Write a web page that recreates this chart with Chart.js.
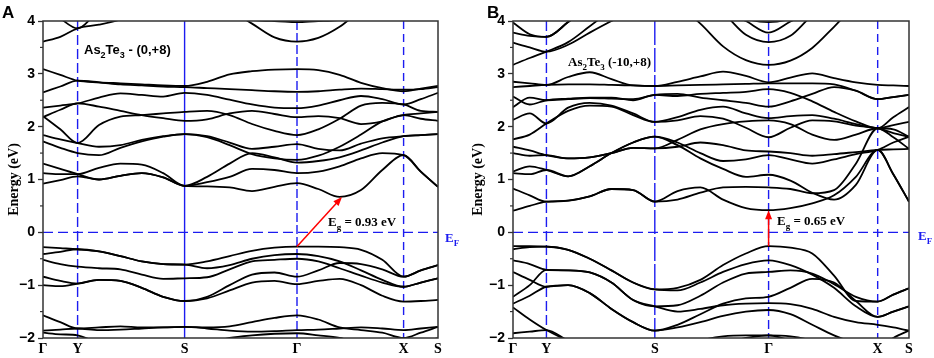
<!DOCTYPE html>
<html>
<head>
<meta charset="utf-8">
<script src="https://cdn.jsdelivr.net/npm/chart.js@4.4.1/dist/chart.umd.min.js"></script>
<style>
body { margin: 0; background: #fff; }
#wrap { position: relative; width: 934px; height: 358px; }
.pane { position: absolute; top: 0; width: 467px; height: 358px; }
</style>
</head>
<body>
<div id="wrap">
  <div class="pane" style="left:0"><canvas id="chartA" width="467" height="358"></canvas></div>
  <div class="pane" style="left:467px"><canvas id="chartB" width="467" height="358"></canvas></div>
</div>
<script>
// k-path labels and positions of the high symmetry points
var symLabels = ["\u0393", "Y", "S", "\u0393", "X", "S"];
var symA = [0, 34.6, 141.6, 254.0, 360.6, 395.0];
var symB = [0, 33.4, 141.7, 255.4, 364.4, 395.7];

// k grid (same columns used for every band of a panel)
var kA = [0, 17.3, 34.6, 56.0, 77.4, 98.8, 120.2, 141.6, 164.1, 186.6, 209.0, 231.5, 254.0, 275.3, 296.6, 318.0, 339.3, 360.6, 377.8, 395.0];
var kB = [0, 16.7, 33.4, 55.1, 76.7, 98.4, 120.0, 141.7, 164.4, 187.2, 209.9, 232.7, 255.4, 277.2, 299.0, 320.8, 342.6, 364.4, 380.0, 395.7];

// band energies (eV), panel A : As2Te3 - (0,+8)
var bandsA = [
  [4.30, 4.05, 3.86, 4.20, 4.40, 4.50, 4.50, 4.50, 4.50, 4.40, 4.02, 4.00, 3.98, 4.00, 4.02, 4.20, 4.40, 4.50, 4.50, 4.50],
  [3.61, 3.70, 3.86, 3.93, 4.03, 4.20, 4.35, 4.40, 4.30, 4.20, 3.95, 3.69, 3.61, 3.68, 3.89, 4.20, 4.40, 4.50, 4.50, 4.50],
  [3.09, 2.98, 2.87, 2.84, 2.82, 2.80, 2.78, 2.77, 2.85, 2.99, 3.05, 3.08, 3.09, 3.07, 2.98, 2.83, 2.73, 2.67, 2.72, 2.77],
  [2.65, 2.76, 2.87, 2.84, 2.80, 2.78, 2.76, 2.75, 2.73, 2.71, 2.69, 2.67, 2.66, 2.67, 2.70, 2.72, 2.71, 2.70, 2.71, 2.75],
  [2.36, 2.40, 2.44, 2.55, 2.63, 2.60, 2.57, 2.64, 2.60, 2.51, 2.42, 2.36, 2.35, 2.40, 2.50, 2.58, 2.52, 2.42, 2.52, 2.64],
  [2.18, 2.32, 2.44, 2.38, 2.30, 2.22, 2.16, 2.11, 2.14, 2.25, 2.30, 2.24, 2.18, 2.20, 2.16, 2.05, 2.10, 2.22, 2.15, 2.11],
  [2.20, 1.95, 1.69, 2.03, 2.19, 2.22, 2.25, 2.28, 2.30, 2.22, 2.05, 1.92, 1.84, 1.95, 2.15, 2.40, 2.45, 2.42, 2.30, 2.28],
  [1.84, 1.76, 1.69, 1.62, 1.65, 1.75, 1.82, 1.86, 1.80, 1.65, 1.48, 1.40, 1.37, 1.45, 1.62, 1.85, 2.10, 2.22, 2.25, 2.28],
  [1.72, 1.60, 1.50, 1.46, 1.60, 1.72, 1.81, 1.86, 1.82, 1.70, 1.58, 1.62, 1.67, 1.58, 1.55, 1.68, 1.78, 1.82, 1.84, 1.86],
  [1.30, 1.20, 1.10, 1.00, 1.07, 1.12, 1.04, 0.88, 1.05, 1.30, 1.50, 1.42, 1.32, 1.35, 1.42, 1.55, 1.70, 1.82, 1.84, 1.86],
  [1.12, 1.10, 1.10, 1.22, 1.30, 1.28, 1.12, 0.88, 0.95, 1.05, 1.20, 1.18, 1.12, 1.15, 1.25, 1.40, 1.50, 1.46, 1.15, 0.86],
  [0.92, 0.99, 1.06, 1.00, 1.07, 1.12, 1.04, 0.88, 0.87, 0.85, 0.78, 0.86, 0.93, 0.82, 0.67, 0.80, 1.18, 1.46, 1.15, 0.86],
  [-0.28, -0.30, -0.32, -0.36, -0.45, -0.55, -0.60, -0.61, -0.55, -0.45, -0.35, -0.29, -0.27, -0.27, -0.28, -0.33, -0.52, -0.84, -0.72, -0.62],
  [-0.41, -0.37, -0.32, -0.36, -0.45, -0.55, -0.60, -0.61, -0.68, -0.62, -0.50, -0.43, -0.41, -0.45, -0.55, -0.72, -0.90, -1.03, -0.95, -0.87],
  [-0.52, -0.60, -0.65, -0.68, -0.70, -0.80, -0.88, -0.87, -0.85, -0.70, -0.55, -0.52, -0.50, -0.55, -0.68, -0.82, -0.95, -1.03, -0.95, -0.87],
  [-0.84, -0.92, -0.97, -0.90, -0.92, -1.05, -1.22, -1.30, -1.22, -1.00, -0.80, -0.76, -0.84, -0.72, -0.58, -0.60, -0.70, -0.84, -0.72, -0.62],
  [-1.00, -1.02, -0.97, -0.90, -0.92, -1.05, -1.22, -1.30, -1.25, -1.10, -0.95, -0.92, -0.98, -0.92, -0.88, -1.00, -1.20, -1.31, -1.30, -1.28],
  [-1.57, -1.70, -1.82, -1.80, -1.78, -1.80, -1.80, -1.79, -1.80, -1.78, -1.70, -1.62, -1.57, -1.65, -1.80, -1.85, -1.90, -2.00, -1.90, -1.79],
  [-1.86, -1.84, -1.82, -1.85, -1.84, -1.82, -1.80, -1.79, -1.82, -1.86, -1.88, -1.87, -1.85, -1.84, -1.82, -1.80, -1.82, -1.85, -1.82, -1.79],
  [-1.90, -1.93, -1.95, -2.10, -2.20, -2.20, -2.20, -2.20, -2.10, -2.00, -1.95, -1.92, -1.91, -1.95, -2.00, -2.10, -2.15, -2.20, -2.10, -2.00]
];

// band energies (eV), panel B : As2Te3 (-10,+8)
var bandsB = [
  [3.97, 3.75, 3.70, 3.98, 4.30, 4.50, 4.60, 4.60, 4.60, 4.50, 4.30, 4.05, 3.98, 4.05, 4.30, 4.50, 4.60, 4.60, 4.60, 4.60],
  [3.78, 3.72, 3.70, 3.98, 4.30, 4.50, 4.60, 4.60, 4.50, 4.40, 4.20, 4.00, 3.78, 3.99, 4.20, 4.40, 4.50, 4.60, 4.60, 4.60],
  [3.59, 3.50, 3.42, 3.55, 3.78, 4.00, 4.20, 4.40, 4.40, 4.30, 4.14, 3.74, 3.60, 3.72, 4.10, 4.30, 4.40, 4.50, 4.50, 4.50],
  [3.17, 3.30, 3.42, 3.60, 3.90, 4.20, 4.40, 4.50, 4.30, 3.95, 3.52, 3.26, 3.17, 3.25, 3.49, 3.89, 4.30, 4.50, 4.50, 4.50],
  [2.85, 2.82, 2.79, 2.94, 3.03, 2.90, 2.78, 2.77, 2.85, 2.95, 3.04, 2.96, 2.84, 2.93, 3.01, 2.92, 2.84, 2.79, 2.78, 2.77],
  [2.75, 2.77, 2.79, 2.80, 2.80, 2.79, 2.78, 2.77, 2.78, 2.79, 2.80, 2.81, 2.82, 2.82, 2.82, 2.80, 2.68, 2.52, 2.56, 2.60],
  [2.57, 2.42, 2.50, 2.53, 2.55, 2.55, 2.50, 2.60, 2.58, 2.62, 2.64, 2.66, 2.71, 2.64, 2.48, 2.28, 2.10, 1.97, 2.03, 2.09],
  [2.37, 2.55, 2.50, 2.52, 2.54, 2.53, 2.52, 2.60, 2.62, 2.55, 2.50, 2.45, 2.38, 2.48, 2.62, 2.75, 2.68, 2.52, 2.56, 2.60],
  [2.13, 2.25, 2.06, 2.36, 2.45, 2.40, 2.25, 2.09, 2.18, 2.32, 2.38, 2.25, 2.16, 2.20, 2.22, 2.15, 2.05, 1.97, 2.18, 2.37],
  [1.76, 1.85, 2.06, 2.30, 2.40, 2.38, 2.22, 2.09, 2.12, 2.20, 2.15, 1.98, 1.80, 1.98, 2.12, 2.10, 2.02, 1.97, 1.88, 1.81],
  [1.62, 1.55, 1.46, 1.40, 1.42, 1.50, 1.60, 1.59, 1.75, 1.95, 2.05, 2.10, 2.12, 2.05, 1.85, 1.75, 1.85, 1.97, 1.80, 1.58],
  [1.50, 1.45, 1.46, 1.40, 1.42, 1.50, 1.60, 1.59, 1.62, 1.70, 1.65, 1.55, 1.53, 1.50, 1.45, 1.48, 1.52, 1.56, 1.57, 1.58],
  [1.15, 1.25, 1.18, 1.06, 1.25, 1.50, 1.70, 1.81, 1.70, 1.50, 1.35, 1.38, 1.46, 1.38, 1.30, 1.38, 1.48, 1.56, 1.70, 1.81],
  [1.12, 1.10, 1.18, 1.06, 1.25, 1.50, 1.70, 1.81, 1.65, 1.40, 1.20, 1.05, 1.09, 0.98, 0.75, 0.62, 0.90, 1.56, 1.10, 0.58],
  [0.83, 0.70, 0.58, 0.60, 0.68, 0.82, 0.80, 0.58, 0.62, 0.75, 0.85, 0.86, 0.85, 0.82, 0.74, 0.80, 1.30, 1.97, 1.95, 1.81],
  [0.41, 0.50, 0.58, 0.60, 0.68, 0.82, 0.80, 0.58, 0.78, 0.85, 0.62, 0.46, 0.42, 0.46, 0.55, 0.70, 1.05, 1.56, 1.10, 0.58],
  [-0.26, -0.26, -0.27, -0.33, -0.50, -0.72, -0.95, -1.08, -1.05, -0.90, -0.62, -0.40, -0.26, -0.29, -0.40, -0.82, -1.30, -1.31, -1.18, -1.06],
  [-0.32, -0.28, -0.27, -0.33, -0.50, -0.72, -0.95, -1.08, -1.10, -0.95, -0.75, -0.60, -0.53, -0.62, -0.80, -1.05, -1.40, -1.60, -1.50, -1.40],
  [-0.53, -0.60, -0.71, -0.72, -0.76, -0.95, -1.28, -1.40, -1.38, -1.20, -0.95, -0.78, -0.75, -0.72, -0.78, -0.98, -1.22, -1.31, -1.18, -1.06],
  [-0.75, -0.90, -1.03, -1.00, -1.15, -1.45, -1.70, -1.86, -1.75, -1.55, -1.35, -1.25, -1.22, -1.05, -0.88, -0.95, -1.30, -1.60, -1.50, -1.40],
  [-1.22, -1.00, -0.71, -0.72, -0.76, -0.95, -1.28, -1.40, -1.50, -1.45, -1.38, -1.35, -1.34, -1.36, -1.45, -1.60, -1.70, -1.75, -1.80, -1.86],
  [-1.35, -1.20, -1.03, -1.00, -1.15, -1.45, -1.70, -1.86, -1.80, -1.70, -1.58, -1.50, -1.47, -1.55, -1.75, -1.95, -2.10, -2.20, -2.00, -1.86],
  [-1.42, -1.65, -1.85, -2.05, -2.20, -2.30, -2.30, -2.30, -2.30, -2.20, -2.10, -2.00, -1.95, -2.05, -2.20, -2.30, -2.30, -2.30, -2.30, -2.30],
  [-1.91, -1.88, -1.85, -2.05, -2.20, -2.30, -2.30, -2.30, -2.20, -2.05, -1.97, -1.95, -1.95, -1.97, -2.05, -2.20, -2.30, -2.30, -2.30, -2.30]
];

// band gap arrows [k, E] -> [k, E]
var gapFromA = [254.0, -0.27], gapToA = [299.0, 0.67];
var gapFromB = [255.4, -0.26], gapToB = [255.4, 0.42];

var BLUE = "#1c1cf0";
var SERIF = "'Liberation Serif', 'Times New Roman', serif";
var SANS = "'Liberation Sans', Arial, sans-serif";

function makeSets(k, bands) {
	var sets = [];
	for (var b = 0; b < bands.length; b++) {
		var pts = [];
		for (var i = 0; i < k.length; i++) pts.push({ x: k[i], y: bands[b][i] });
		sets.push({
			data: pts,
			borderColor: "#000",
			borderWidth: 1.8,
			pointRadius: 0,
			fill: false,
			tension: 0.4,
			cubicInterpolationMode: "monotone"
		});
	}
	return sets;
}

// draw text made of pieces, some of them subscripts
function richText(ctx, x, y, parts, size, family, color) {
	ctx.save();
	ctx.fillStyle = color;
	ctx.textBaseline = "alphabetic";
	ctx.textAlign = "left";
	for (var i = 0; i < parts.length; i++) {
		var p = parts[i];
		var sz = p.sub ? Math.round(size * 0.68) : size;
		ctx.font = "bold " + sz + "px " + family;
		ctx.fillText(p.t, x, p.sub ? y + size * 0.28 : y);
		x += ctx.measureText(p.t).width;
	}
	ctx.restore();
}

var decor = {
	id: "decor",
	beforeDatasetsDraw: function(chart, args, o) {
		var ctx = chart.ctx, a = chart.chartArea;
		var xs = chart.scales.x, ys = chart.scales.y;
		ctx.save();
		ctx.strokeStyle = BLUE;
		ctx.lineWidth = 1.4;
		for (var i = 1; i < o.sym.length - 1; i++) {
			var px = xs.getPixelForValue(o.sym[i]);
			ctx.setLineDash(o.dashes[i - 1]);
			ctx.beginPath();
			ctx.moveTo(px, a.top);
			ctx.lineTo(px, a.bottom);
			ctx.stroke();
		}
		var y0 = ys.getPixelForValue(0);
		ctx.setLineDash([10, 5]);
		ctx.beginPath();
		ctx.moveTo(a.left, y0);
		ctx.lineTo(a.right, y0);
		ctx.stroke();
		ctx.restore();
	},
	afterDraw: function(chart, args, o) {
		var ctx = chart.ctx, a = chart.chartArea;
		var xs = chart.scales.x, ys = chart.scales.y;
		ctx.save();
		// frame
		ctx.strokeStyle = "#333";
		ctx.lineWidth = 1.5;
		ctx.strokeRect(a.left, a.top, a.right - a.left, a.bottom - a.top);
		// minor ticks
		ctx.lineWidth = 1.2;
		for (var v = -1.5; v < 4; v += 1) {
			var py = ys.getPixelForValue(v);
			ctx.beginPath();
			ctx.moveTo(a.left - 3, py);
			ctx.lineTo(a.left, py);
			ctx.stroke();
		}
		// gap arrow
		var x0 = xs.getPixelForValue(o.gapFrom[0]), y0 = ys.getPixelForValue(o.gapFrom[1]);
		var x1 = xs.getPixelForValue(o.gapTo[0]), y1 = ys.getPixelForValue(o.gapTo[1]);
		var ang = Math.atan2(y1 - y0, x1 - x0);
		ctx.strokeStyle = "#f00";
		ctx.fillStyle = "#f00";
		ctx.lineWidth = 1.5;
		ctx.beginPath();
		ctx.moveTo(x0, y0);
		ctx.lineTo(x1 - 6 * Math.cos(ang), y1 - 6 * Math.sin(ang));
		ctx.stroke();
		ctx.beginPath();
		ctx.moveTo(x1, y1);
		ctx.lineTo(x1 - 9 * Math.cos(ang) + 3.5 * Math.sin(ang), y1 - 9 * Math.sin(ang) - 3.5 * Math.cos(ang));
		ctx.lineTo(x1 - 9 * Math.cos(ang) - 3.5 * Math.sin(ang), y1 - 9 * Math.sin(ang) + 3.5 * Math.cos(ang));
		ctx.closePath();
		ctx.fill();
		ctx.restore();
		// texts
		ctx.save();
		ctx.fillStyle = "#000";
		ctx.font = "bold 17px " + SANS;
		ctx.fillText(o.letter, o.letterPos[0], o.letterPos[1]);
		ctx.restore();
		richText(ctx, o.namePos[0], o.namePos[1], o.name, 13, o.nameFont, "#000");
		richText(ctx, o.gapPos[0], o.gapPos[1], [{ t: "E" }, { t: "g", sub: true }, { t: " = " + o.gapText }], 13, SERIF, "#000");
		richText(ctx, o.efPos[0], o.efPos[1], [{ t: "E" }, { t: "F", sub: true }], 13, SERIF, BLUE);
	}
};

function makeChart(id, k, sym, bands, axisWidth, padRight, titlePad, opts) {
	return new Chart(document.getElementById(id), {
		type: "line",
		data: { datasets: makeSets(k, bands) },
		plugins: [decor],
		options: {
			responsive: false,
			animation: false,
			layout: { padding: { left: 0, top: 21, right: padRight, bottom: 0 } },
			plugins: { legend: { display: false }, tooltip: { enabled: false }, decor: opts },
			scales: {
				x: {
					type: "linear",
					min: 0,
					max: sym[sym.length - 1],
					afterFit: function(s) { s.height = 20; },
					afterBuildTicks: function(s) { s.ticks = sym.map(function(v) { return { value: v }; }); },
					ticks: {
						autoSkip: false,
						maxRotation: 0,
						padding: 3,
						color: "#000",
						font: { family: SERIF, weight: "bold", size: 14 },
						callback: function(v, i) { return symLabels[i]; }
					},
					grid: { display: false, drawTicks: false },
					border: { display: false }
				},
				y: {
					min: -2,
					max: 4,
					afterFit: function(s) { s.width = axisWidth; },
					ticks: {
						stepSize: 1,
						padding: 3,
						color: "#000",
						font: { family: SANS, weight: "bold", size: 14 },
						callback: function(v) { return v < 0 ? "\u2212" + Math.abs(v) : String(v); }
					},
					grid: { drawOnChartArea: false, drawTicks: true, tickLength: 5, tickColor: "#333", tickWidth: 1.3 },
					border: { display: false },
					title: {
						display: true,
						text: "Energy (eV)",
						color: "#000",
						font: { family: SERIF, weight: "bold", size: 14 },
						padding: { top: titlePad, bottom: 0 }
					}
				}
			}
		}
	});
}

makeChart("chartA", kA, symA, bandsA, 43, 29, 6, {
	sym: symA,
	dashes: [[10, 4], [], [9, 3], [8, 5]],
	gapFrom: gapFromA, gapTo: gapToA,
	letter: "A", letterPos: [2, 18],
	name: [{ t: "As" }, { t: "2", sub: true }, { t: "Te" }, { t: "3", sub: true }, { t: " - (0,+8)" }],
	nameFont: SANS, namePos: [84, 54],
	gapText: "0.93 eV", gapPos: [328, 226],
	efPos: [445, 242]
});

makeChart("chartB", kB, symB, bandsB, 46, 25, 3, {
	sym: symB,
	dashes: [[10, 4], [24, 3], [9, 4], [8, 5]],
	gapFrom: gapFromB, gapTo: gapToB,
	letter: "B", letterPos: [20, 18],
	name: [{ t: "As" }, { t: "2", sub: true }, { t: "Te" }, { t: "3", sub: true }, { t: " (-10,+8)" }],
	nameFont: SERIF, namePos: [101, 66],
	gapText: "0.65 eV", gapPos: [310, 225],
	efPos: [451, 240]
});
</script>
</body>
</html>
